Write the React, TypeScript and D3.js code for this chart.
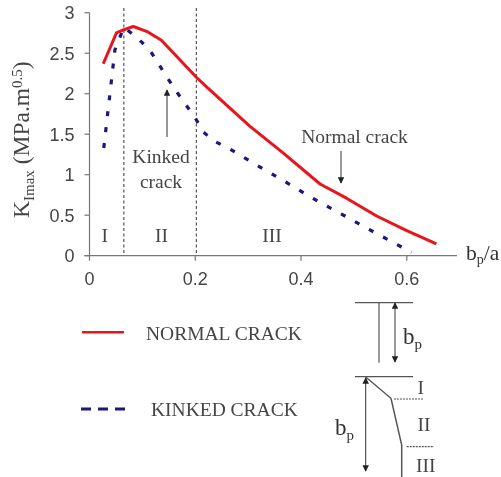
import React from "react";
import * as d3 from "d3";

const normalX = [0.026, 0.051, 0.065, 0.083, 0.108, 0.136, 0.2025, 0.224, 0.303, 0.366, 0.436, 0.486, 0.543, 0.6, 0.656];
const normalY = [2.37, 2.75, 2.79, 2.83, 2.77, 2.66, 2.2, 2.07, 1.6, 1.27, 0.885, 0.71, 0.49, 0.31, 0.145];
const kinkedX = [0.027, 0.048, 0.065, 0.092, 0.114, 0.146, 0.163, 0.2, 0.215, 0.234, 0.262, 0.29, 0.316, 0.366, 0.42, 0.474, 0.527, 0.58, 0.609];
const kinkedY = [1.33, 2.54, 2.82, 2.68, 2.54, 2.21, 2.04, 1.7, 1.53, 1.42, 1.33, 1.22, 1.12, 0.93, 0.716, 0.523, 0.33, 0.144, 0.04];
const xTicks = [0, 0.2, 0.4, 0.6];
const xTickLabels = ["0", "0.2", "0.4", "0.6"];
const yTicks = [0, 0.5, 1, 1.5, 2, 2.5, 3];
const yTickLabels = ["0", "0.5", "1", "1.5", "2", "2.5", "3"];
const regionLines = [0.065, 0.202];
const regions = [
  { label: "I", x: 0.029 },
  { label: "II", x: 0.136 },
  { label: "III", x: 0.345 },
];

const x = d3.scaleLinear().domain([0, 0.695]).range([89.5, 457]);
const y = d3.scaleLinear().domain([0, 3]).range([255.7, 12.7]);
const line = d3.line<number>().x((d) => x(d)).curve(d3.curveLinear);
const path = (xs: number[], ys: number[]) => line.y((_, i) => y(ys[i]))(xs) ?? "";

const SERIF = "'Liberation Serif', serif";
const SANS = "'Liberation Sans', sans-serif";
const INK = "#444";
const ANN = 19.5;

const Arrow = ({ x1, y1, x2, y2, start = false }: { x1: number; y1: number; x2: number; y2: number; start?: boolean }) => (
  <line x1={x1} y1={y1} x2={x2} y2={y2} stroke="#333" strokeWidth={1} markerEnd="url(#ah)" markerStart={start ? "url(#ahs)" : undefined} />
);

export default function App() {
  return (
    <svg width={501} height={477} style={{ position: "absolute", left: 0, top: 0, background: "#fff" }}>
      <defs>
        <filter id="soft" x="-5%" y="-5%" width="110%" height="110%">
          <feGaussianBlur stdDeviation="0.5" />
        </filter>
        <marker id="ah" viewBox="0 0 8 8" refX="7" refY="4" markerWidth="6.5" markerHeight="6.5" orient="auto" markerUnits="userSpaceOnUse">
          <path d="M0,0L8,4L0,8Z" fill="#222" />
        </marker>
        <marker id="ahs" viewBox="0 0 8 8" refX="1" refY="4" markerWidth="6.5" markerHeight="6.5" orient="auto" markerUnits="userSpaceOnUse">
          <path d="M8,0L0,4L8,8Z" fill="#222" />
        </marker>
      </defs>
      <g filter="url(#soft)">
        {/* axes */}
        <line x1={x(0)} x2={x(0)} y1={y(3)} y2={y(0)} stroke="#777" strokeWidth={1.2} />
        <line x1={x(0) - 5} x2={x(0.695)} y1={y(0)} y2={y(0)} stroke="#777" strokeWidth={1.2} />
        {yTicks.map((t, i) => (
          <g key={t}>
            <line x1={x(0) - 5} x2={x(0)} y1={y(t)} y2={y(t)} stroke="#777" strokeWidth={1.2} />
            <text x={x(0) - 15} y={y(t) + 6.5} textAnchor="end" fontFamily={SANS} fontSize={18} fill={INK}>{yTickLabels[i]}</text>
          </g>
        ))}
        {xTicks.map((t, i) => (
          <g key={t}>
            <line x1={x(t)} x2={x(t)} y1={y(0)} y2={y(0) + 5} stroke="#777" strokeWidth={1.2} />
            <text x={x(t)} y={y(0) + 29} textAnchor="middle" fontFamily={SANS} fontSize={18} fill={INK}>{xTickLabels[i]}</text>
          </g>
        ))}
        {regionLines.map((r) => (
          <line key={r} x1={x(r)} x2={x(r)} y1={8} y2={y(0)} stroke="#333" strokeWidth={1} strokeDasharray="3 2.5" />
        ))}
        {regions.map((r) => (
          <text key={r.label} x={x(r.x)} y={241.5} textAnchor="middle" fontFamily={SERIF} fontSize={ANN} fill={INK}>{r.label}</text>
        ))}

        {/* series */}
        <path d={path(kinkedX, kinkedY)} fill="none" stroke="#1a1480" strokeWidth={3.2} strokeDasharray="5 11" />
        <path d={path(normalX, normalY)} fill="none" stroke="#e8141c" strokeWidth={3} strokeLinejoin="round" />

        {/* axis titles */}
        <text transform="translate(28.500,218) rotate(-90)" fontFamily={SERIF} fontSize={23.5} fill={INK}>
          K<tspan fontSize={15} dy={5}>Imax</tspan>
          <tspan dy={-5}> (MPa.m</tspan>
          <tspan fontSize={15} dy={-7}>0.5</tspan>
          <tspan dy={7}>)</tspan>
        </text>
        <text x={466} y={260} fontFamily={SERIF} fontSize={21.5} fill="#333">
          b<tspan fontSize={14} dy={4}>p</tspan>
          <tspan dy={-4}>/a</tspan>
        </text>

        {/* annotations */}
        <Arrow x1={167} y1={137} x2={167} y2={90} />
        <text x={161} y={163} textAnchor="middle" fontFamily={SERIF} fontSize={ANN} fill={INK}>Kinked</text>
        <text x={161} y={188} textAnchor="middle" fontFamily={SERIF} fontSize={ANN} fill={INK}>crack</text>
        <text x={354.500} y={143} textAnchor="middle" fontFamily={SERIF} fontSize={ANN} fill={INK}>Normal crack</text>
        <Arrow x1={341} y1={151} x2={341} y2={183} />

        {/* legend */}
        <line x1={82} x2={124} y1={332.3} y2={332.3} stroke="#e8141c" strokeWidth={2.5} />
        <text x={146} y={340} fontFamily={SERIF} fontSize={ANN} fill={INK}>NORMAL CRACK</text>
        <line x1={81} x2={125} y1={409} y2={409} stroke="#1a1480" strokeWidth={2.8} strokeDasharray="10 7" />
        <text x={151} y={416} fontFamily={SERIF} fontSize={ANN} fill={INK}>KINKED CRACK</text>

        {/* crack sketches */}
        <g stroke="#555" strokeWidth={1.2} fill="none">
          <line x1={355} x2={413} y1={302.7} y2={302.7} />
          <line x1={379} x2={379} y1={302.7} y2={362.7} />
          <line x1={355} x2={413} y1={376.7} y2={376.7} />
          <path d="M365.700,377L391,398.300L401.700,445L401.700,477" strokeWidth={1.5} />
          <line x1={394} x2={423} y1={399} y2={399} strokeDasharray="2 1" />
          <line x1={406.700} x2={434} y1={446.7} y2={446.7} strokeDasharray="2 1" />
        </g>
        <Arrow x1={395} y1={303} x2={395} y2={362} start />
        <Arrow x1={365.700} y1={378} x2={365.700} y2={471} start />
        <text x={403} y={344} fontFamily={SERIF} fontSize={23} fill="#333">
          b<tspan fontSize={15} dy={5}>p</tspan>
        </text>
        <text x={335} y={435} fontFamily={SERIF} fontSize={23} fill="#333">
          b<tspan fontSize={15} dy={5}>p</tspan>
        </text>
        <text x={420.7} y={394} textAnchor="middle" fontFamily={SERIF} fontSize={ANN} fill={INK}>I</text>
        <text x={424} y={430.7} textAnchor="middle" fontFamily={SERIF} fontSize={ANN} fill={INK}>II</text>
        <text x={425.8} y={472} textAnchor="middle" fontFamily={SERIF} fontSize={ANN} fill={INK}>III</text>
      </g>
    </svg>
  );
}
